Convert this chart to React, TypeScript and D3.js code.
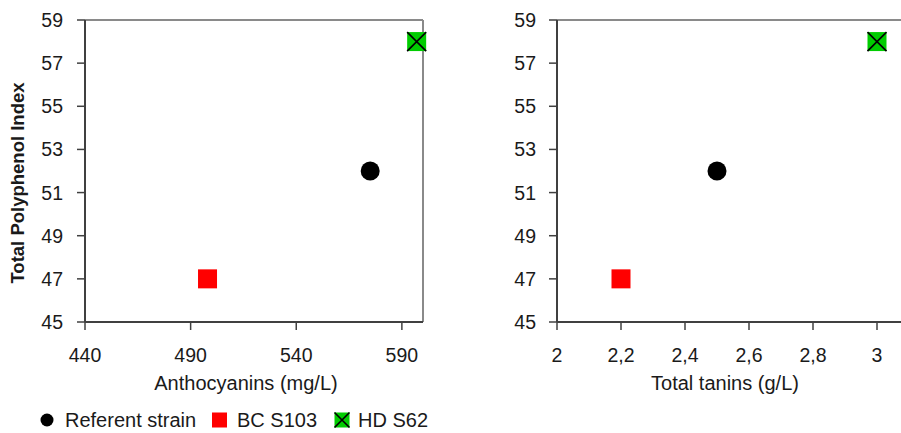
import React from "react";
import * as d3 from "d3";

const strains = ["Referent strain", "BC S103", "HD S62"];
const anthocyanins = [575, 498, 597];
const tanins = [2.5, 2.2, 3.0];
const tpi = [52, 47, 58];
const yTicks = [45, 47, 49, 51, 53, 55, 57, 59];
const leftXTicks = [440, 490, 540, 590];
const rightXTicks = [2, 2.2, 2.4, 2.6, 2.8, 3];

const W = 901;
const H = 433;
const FONT = "'Liberation Sans', Arial, sans-serif";
const TXT = "#1a1a1a";
const AXIS = "#404040";
const BORDER = "#8a8a8a";

const fmtComma = d3.formatLocale({ decimal: ",", thousands: ".", grouping: [3], currency: ["", ""] }).format("~g");

function Marker({ kind, x, y, s }: { kind: number; x: number; y: number; s: number }) {
  if (kind === 0) return <circle cx={x} cy={y} r={s / 2} fill="#000" />;
  if (kind === 1) return <rect x={x - s / 2} y={y - s / 2} width={s} height={s} fill="#ff0000" />;
  const h = s / 2;
  return (
    <g>
      <rect x={x - h} y={y - h} width={s} height={s} fill="#00cc00" />
      <path d={`M${x - h},${y - h}L${x + h},${y + h}M${x + h},${y - h}L${x - h},${y + h}`} stroke="#000" strokeWidth={1.6} />
    </g>
  );
}

function Panel({ x0, x1, domain, ticks, xs, title, titleX, fmt, labelRight }: any) {
  const x = d3.scaleLinear().domain(domain).range([x0, x1]);
  const y = d3.scaleLinear().domain([45, 59]).range([322, 20]);
  return (
    <g>
      <line x1={x0} x2={x1} y1={y(59)} y2={y(59)} stroke={BORDER} strokeWidth={2} />
      <line x1={x1} x2={x1} y1={y(59)} y2={y(45)} stroke={BORDER} strokeWidth={2} />
      <line x1={x0} x2={x0} y1={y(59)} y2={y(45)} stroke={AXIS} strokeWidth={2} />
      <line x1={x0} x2={x1} y1={y(45)} y2={y(45)} stroke={AXIS} strokeWidth={2} />
      {yTicks.map((t) => (
        <g key={"y" + t}>
          <line x1={x0 - 8} x2={x0} y1={y(t)} y2={y(t)} stroke={AXIS} strokeWidth={1.5} />
          <text x={labelRight} y={y(t)} dy="0.36em" textAnchor="end" fontSize={19.5} fill={TXT}>{t}</text>
        </g>
      ))}
      {ticks.map((t: number) => (
        <g key={"x" + t}>
          <line x1={x(t)} x2={x(t)} y1={y(45)} y2={y(45) + 8} stroke={AXIS} strokeWidth={1.5} />
          <text x={x(t)} y={362} textAnchor="middle" fontSize={19.5} fill={TXT}>{fmt(t)}</text>
        </g>
      ))}
      <text x={titleX} y={390} textAnchor="middle" fontSize={20} fill={TXT}>{title}</text>
      {xs.map((v: number, i: number) => (
        <Marker key={i} kind={i} x={x(v)} y={y(tpi[i])} s={19} />
      ))}
    </g>
  );
}

export default function App() {
  return (
    <svg width={W} height={H} style={{ position: "absolute", left: 0, top: 0, fontFamily: FONT, background: "#fff" }}>
      <rect width={W} height={H} fill="#fff" />
      <Panel x0={85} x1={423} domain={[440, 600]} ticks={leftXTicks} xs={anthocyanins}
        title="Anthocyanins (mg/L)" titleX={246} fmt={(d: number) => String(d)} labelRight={63} />
      <Panel x0={557} x1={909} domain={[2, 3.1]} ticks={rightXTicks} xs={tanins}
        title="Total tanins (g/L)" titleX={725} fmt={fmtComma} labelRight={536} />
      <text transform="translate(24,183) rotate(-90)" textAnchor="middle" fontSize={18.5} fontWeight="bold" fill={TXT}>
        Total Polyphenol Index
      </text>
      {(() => {
        const items = [
          { mx: 47, tx: 65 },
          { mx: 219.5, tx: 237 },
          { mx: 342, tx: 358 },
        ];
        return strains.map((s, i) => (
          <g key={s}>
            <Marker kind={i} x={items[i].mx} y={420} s={i === 0 ? 13 : 15} />
            <text x={items[i].tx} y={420} dy="0.36em" fontSize={20} fill={TXT}>{s}</text>
          </g>
        ));
      })()}
    </svg>
  );
}
